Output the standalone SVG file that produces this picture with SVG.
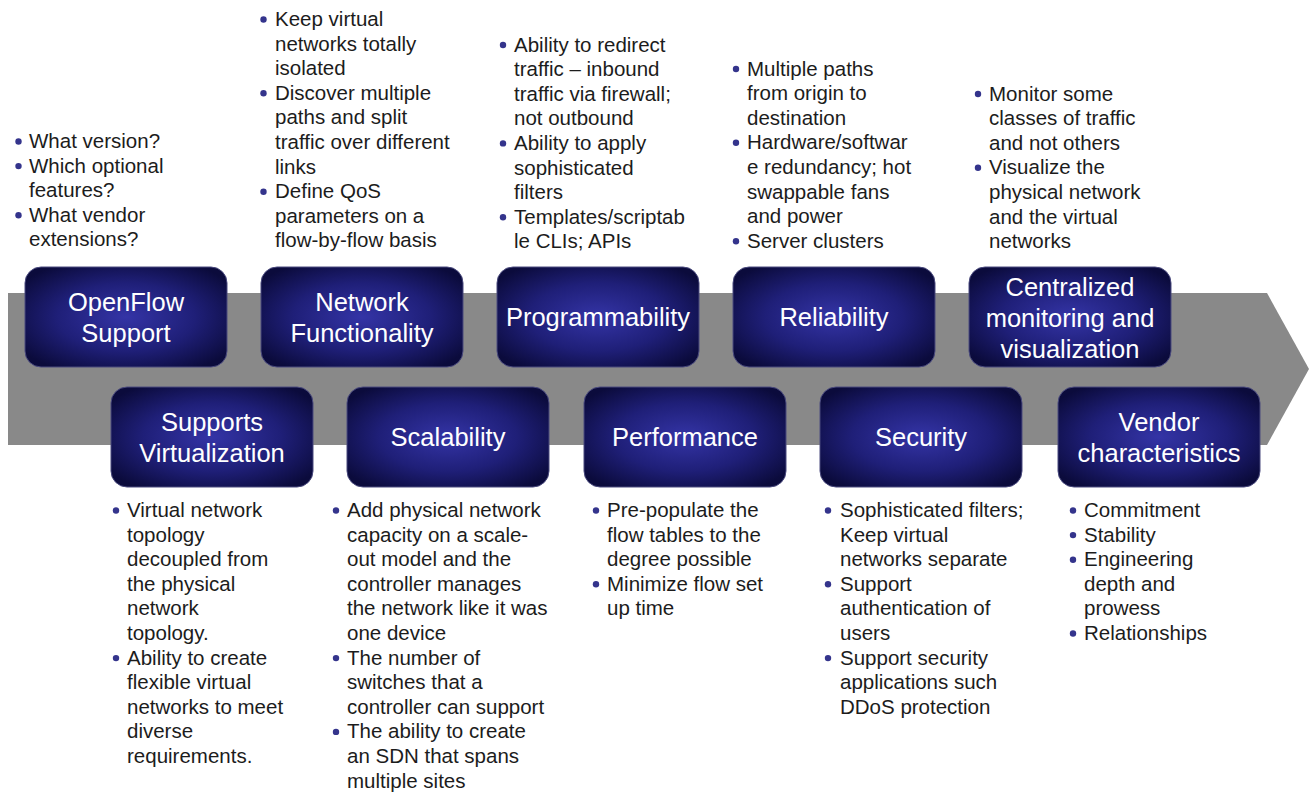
<svg xmlns="http://www.w3.org/2000/svg" width="1310" height="797" viewBox="0 0 1310 797">
<defs>
<radialGradient id="boxg" cx="0.5" cy="0.5" r="0.62">
<stop offset="0" stop-color="#3434a6"/>
<stop offset="0.55" stop-color="#1f1f78"/>
<stop offset="1" stop-color="#0b0b3c"/>
</radialGradient>
<style>
.box{fill:url(#boxg);stroke:#4a4a7e;stroke-width:1}
.ttl{font-family:"Liberation Sans",Arial,sans-serif;font-size:25.5px;fill:#ffffff;text-anchor:middle}
.txt{font-family:"Liberation Sans",Arial,sans-serif;font-size:20.5px;fill:#1c1c1c}
.dot{fill:#34348c}
</style>
</defs>
<rect width="1310" height="797" fill="#ffffff"/>
<g id="band">
<polygon points="8,293 1267,293 1309,369 1267,445 8,445" fill="#898989"/>
</g>
<g id="connectors"/>

<g id="openflow">
<rect class="box" x="25" y="267" width="202" height="100" rx="16"/>
<text class="ttl" x="126" y="311">OpenFlow</text>
<text class="ttl" x="126" y="342">Support</text>
<circle class="dot" cx="18.5" cy="141.5" r="3.2"/>
<circle class="dot" cx="18.5" cy="166.1" r="3.2"/>
<circle class="dot" cx="18.5" cy="215.3" r="3.2"/>
<text class="txt"><tspan x="29" y="148">What version?</tspan><tspan x="29" y="172.6">Which optional</tspan><tspan x="29" y="197.2">features?</tspan><tspan x="29" y="221.8">What vendor</tspan><tspan x="29" y="246.4">extensions?</tspan></text>
</g>

<g id="network">
<rect class="box" x="261" y="267" width="202" height="100" rx="16"/>
<text class="ttl" x="362" y="311">Network</text>
<text class="ttl" x="362" y="342">Functionality</text>
<circle class="dot" cx="263.5" cy="19.5" r="3.2"/>
<circle class="dot" cx="263.5" cy="93.3" r="3.2"/>
<circle class="dot" cx="263.5" cy="191.7" r="3.2"/>
<text class="txt"><tspan x="275" y="26">Keep virtual</tspan><tspan x="275" y="50.6">networks totally</tspan><tspan x="275" y="75.2">isolated</tspan><tspan x="275" y="99.8">Discover multiple</tspan><tspan x="275" y="124.4">paths and split</tspan><tspan x="275" y="149">traffic over different</tspan><tspan x="275" y="173.6">links</tspan><tspan x="275" y="198.2">Define QoS</tspan><tspan x="275" y="222.8">parameters on a</tspan><tspan x="275" y="247.4">flow-by-flow basis</tspan></text>
</g>

<g id="programmability">
<rect class="box" x="497" y="267" width="202" height="100" rx="16"/>
<text class="ttl" x="598" y="326">Programmability</text>
<circle class="dot" cx="503" cy="45" r="3.2"/>
<circle class="dot" cx="503" cy="143.4" r="3.2"/>
<circle class="dot" cx="503" cy="217.2" r="3.2"/>
<text class="txt"><tspan x="514" y="51.5">Ability to redirect</tspan><tspan x="514" y="76.1">traffic – inbound</tspan><tspan x="514" y="100.7">traffic via firewall;</tspan><tspan x="514" y="125.3">not outbound</tspan><tspan x="514" y="149.9">Ability to apply</tspan><tspan x="514" y="174.5">sophisticated</tspan><tspan x="514" y="199.1">filters</tspan><tspan x="514" y="223.7">Templates/scriptab</tspan><tspan x="514" y="248.3">le CLIs; APIs</tspan></text>
</g>

<g id="reliability">
<rect class="box" x="733" y="267" width="202" height="100" rx="16"/>
<text class="ttl" x="834" y="326">Reliability</text>
<circle class="dot" cx="736" cy="69" r="3.2"/>
<circle class="dot" cx="736" cy="142.8" r="3.2"/>
<circle class="dot" cx="736" cy="241.2" r="3.2"/>
<text class="txt"><tspan x="747" y="75.5">Multiple paths</tspan><tspan x="747" y="100.1">from origin to</tspan><tspan x="747" y="124.7">destination</tspan><tspan x="747" y="149.3">Hardware/softwar</tspan><tspan x="747" y="173.9">e redundancy; hot</tspan><tspan x="747" y="198.5">swappable fans</tspan><tspan x="747" y="223.1">and power</tspan><tspan x="747" y="247.7">Server clusters</tspan></text>
</g>

<g id="monitoring">
<rect class="box" x="969" y="267" width="202" height="100" rx="16"/>
<text class="ttl" x="1070" y="296">Centralized</text>
<text class="ttl" x="1070" y="327">monitoring and</text>
<text class="ttl" x="1070" y="357.5">visualization</text>
<circle class="dot" cx="978" cy="94" r="3.2"/>
<circle class="dot" cx="978" cy="167.8" r="3.2"/>
<text class="txt"><tspan x="989" y="100.5">Monitor some</tspan><tspan x="989" y="125.1">classes of traffic</tspan><tspan x="989" y="149.7">and not others</tspan><tspan x="989" y="174.3">Visualize the</tspan><tspan x="989" y="198.9">physical network</tspan><tspan x="989" y="223.5">and the virtual</tspan><tspan x="989" y="248.1">networks</tspan></text>
</g>

<g id="virtualization">
<rect class="box" x="111" y="387" width="202" height="100" rx="16"/>
<text class="ttl" x="212" y="431">Supports</text>
<text class="ttl" x="212" y="462">Virtualization</text>
<circle class="dot" cx="116" cy="510.5" r="3.2"/>
<circle class="dot" cx="116" cy="658.1" r="3.2"/>
<text class="txt"><tspan x="127" y="517">Virtual network</tspan><tspan x="127" y="541.6">topology</tspan><tspan x="127" y="566.2">decoupled from</tspan><tspan x="127" y="590.8">the physical</tspan><tspan x="127" y="615.4">network</tspan><tspan x="127" y="640">topology.</tspan><tspan x="127" y="664.6">Ability to create</tspan><tspan x="127" y="689.2">flexible virtual</tspan><tspan x="127" y="713.8">networks to meet</tspan><tspan x="127" y="738.4">diverse</tspan><tspan x="127" y="763">requirements.</tspan></text>
</g>

<g id="scalability">
<rect class="box" x="347" y="387" width="202" height="100" rx="16"/>
<text class="ttl" x="448" y="446">Scalability</text>
<circle class="dot" cx="336" cy="510.5" r="3.2"/>
<circle class="dot" cx="336" cy="658.1" r="3.2"/>
<circle class="dot" cx="336" cy="731.9" r="3.2"/>
<text class="txt"><tspan x="347" y="517">Add physical network</tspan><tspan x="347" y="541.6">capacity on a scale-</tspan><tspan x="347" y="566.2">out model and the</tspan><tspan x="347" y="590.8">controller manages</tspan><tspan x="347" y="615.4">the network like it was</tspan><tspan x="347" y="640">one device</tspan><tspan x="347" y="664.6">The number of</tspan><tspan x="347" y="689.2">switches that a</tspan><tspan x="347" y="713.8">controller can support</tspan><tspan x="347" y="738.4">The ability to create</tspan><tspan x="347" y="763">an SDN that spans</tspan><tspan x="347" y="787.6">multiple sites</tspan></text>
</g>

<g id="performance">
<rect class="box" x="584" y="387" width="202" height="100" rx="16"/>
<text class="ttl" x="685" y="446">Performance</text>
<circle class="dot" cx="596" cy="510.5" r="3.2"/>
<circle class="dot" cx="596" cy="584.3" r="3.2"/>
<text class="txt"><tspan x="607" y="517">Pre-populate the</tspan><tspan x="607" y="541.6">flow tables to the</tspan><tspan x="607" y="566.2">degree possible</tspan><tspan x="607" y="590.8">Minimize flow set</tspan><tspan x="607" y="615.4">up time</tspan></text>
</g>

<g id="security">
<rect class="box" x="820" y="387" width="202" height="100" rx="16"/>
<text class="ttl" x="921" y="446">Security</text>
<circle class="dot" cx="828" cy="510.5" r="3.2"/>
<circle class="dot" cx="828" cy="584.3" r="3.2"/>
<circle class="dot" cx="828" cy="658.1" r="3.2"/>
<text class="txt"><tspan x="840" y="517">Sophisticated filters;</tspan><tspan x="840" y="541.6">Keep virtual</tspan><tspan x="840" y="566.2">networks separate</tspan><tspan x="840" y="590.8">Support</tspan><tspan x="840" y="615.4">authentication of</tspan><tspan x="840" y="640">users</tspan><tspan x="840" y="664.6">Support security</tspan><tspan x="840" y="689.2">applications such</tspan><tspan x="840" y="713.8">DDoS protection</tspan></text>
</g>

<g id="vendor">
<rect class="box" x="1058" y="387" width="202" height="100" rx="16"/>
<text class="ttl" x="1159" y="431">Vendor</text>
<text class="ttl" x="1159" y="462">characteristics</text>
<circle class="dot" cx="1073" cy="510.5" r="3.2"/>
<circle class="dot" cx="1073" cy="535.1" r="3.2"/>
<circle class="dot" cx="1073" cy="559.7" r="3.2"/>
<circle class="dot" cx="1073" cy="633.5" r="3.2"/>
<text class="txt"><tspan x="1084" y="517">Commitment</tspan><tspan x="1084" y="541.6">Stability</tspan><tspan x="1084" y="566.2">Engineering</tspan><tspan x="1084" y="590.8">depth and</tspan><tspan x="1084" y="615.4">prowess</tspan><tspan x="1084" y="640">Relationships</tspan></text>
</g>
</svg>
